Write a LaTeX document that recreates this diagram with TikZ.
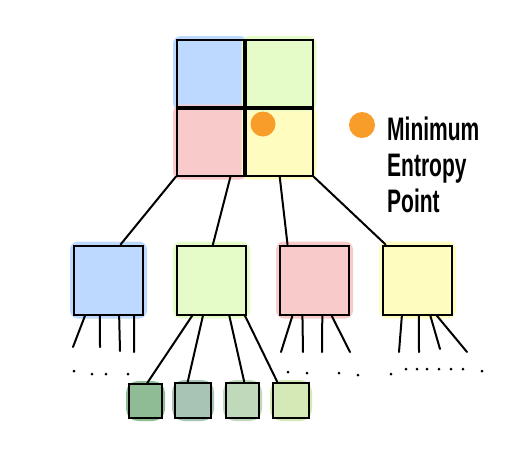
\documentclass[tikz,border=0pt]{standalone}
\usepackage{fontspec}
\newfontfamily\handfont{Liberation Sans}
\usetikzlibrary{calc,backgrounds}
\definecolor{paintblue}{HTML}{BED9FF}
\definecolor{paintgreen}{HTML}{E6FCC8}
\definecolor{paintred}{HTML}{F8CBCA}
\definecolor{paintyellow}{HTML}{FFFCC0}
\definecolor{paintorange}{HTML}{F89C2A}
\definecolor{leafa}{HTML}{8FBC95}
\definecolor{leafb}{HTML}{A7C4B5}
\definecolor{leafc}{HTML}{C0D9BB}
\definecolor{leafd}{HTML}{D4E9B6}

\begin{document}
\begin{tikzpicture}[x=1pt,y=-1pt,
    cell/.style={draw=black,line width=2pt,inner sep=0pt,minimum width=67pt,minimum height=67pt},
    kid/.style={draw=black,line width=2pt,inner sep=0pt,minimum size=69pt},
    leaf/.style={draw=black,line width=2pt,inner sep=0pt,minimum width=34pt,minimum height=34pt},
    link/.style={line width=2pt,line cap=round},
    speck/.style={fill=black,circle,inner sep=0pt,minimum size=3pt}]
    \useasboundingbox (0,0) rectangle (514,448);

    % top 2x2 grid
    \node[cell] (tl) at (210.5,73.5) {};
    \node[cell] (tr) at (279,73.5) {};
    \node[cell] (bl) at (210.5,142) {};
    \node[cell] (br) at (279,142) {};

    % second level
    \node[kid] (blue) at (108.5,280) {};
    \node[kid] (green) at (211.5,280) {};
    \node[kid] (red) at (314.5,280) {};
    \node[kid] (yellow) at (417.5,280) {};

    % small leaves below the green one
    \node[leaf,minimum width=33pt] (lfa) at (145.5,401) {};
    \node[leaf,minimum width=36pt,minimum height=35pt] (lfb) at (193,400.5) {};
    \node[leaf,minimum width=33pt,minimum height=35pt] (lfc) at (242.5,400.5) {};
    \node[leaf,minimum width=36pt,minimum height=35pt] (lfd) at (291,400.5) {};

    % painted fills, a bit larger than the boxes
    \begin{scope}[on background layer]
        \fill[white] (0,0) rectangle (514,448);
        \foreach \n/\c in {tl/paintblue,bl/paintred,br/paintyellow,tr/paintgreen,blue/paintblue,green/paintgreen,red/paintred,yellow/paintyellow}
            \fill[\c,rounded corners=8pt] ($(\n.north west)+(-3,-3)$) rectangle ($(\n.south east)+(3,3)$);
        \foreach \n/\c in {lfa/leafa,lfb/leafb,lfc/leafc,lfd/leafd}
            \fill[\c,rounded corners=12pt] ($(\n.north west)+(-2,-2)$) rectangle ($(\n.south east)+(2,2)$);
    \end{scope}

    % minimum entropy point and its key
    \node[circle,fill=paintorange,inner sep=0pt,minimum size=25pt] (minpt) at (263,124) {};
    \node[circle,fill=paintorange,inner sep=0pt,minimum size=26pt] (keypt) at (362,125) {};
    \node[anchor=base west,inner sep=0pt] (keytext) at (387,140)
        {\scalebox{1}[1.55]{\handfont\bfseries\fontsize{21}{23.5}\selectfont\begin{tabular}[t]{@{}l@{}}Minimum\\Entropy\\Point\end{tabular}}};

    % grid to second level
    \draw[link] (bl.south west) -- ($(blue.north west)!.67!(blue.north east)$);
    \draw[link] ($(bl.south west)!.79!(bl.south east)$) -- ($(green.north west)!.52!(green.north east)$);
    \draw[link] ($(br.south west)!.51!(br.south east)$) -- ($(red.north west)!.12!(red.north east)$);
    \draw[link] (br.south east) -- ($(yellow.north west)!.05!(yellow.north east)$);

    % green to small leaves
    \draw[link] ($(green.south west)!.23!(green.south east)$) -- ($(lfa.north west)!.55!(lfa.north east)$);
    \draw[link] ($(green.south west)!.38!(green.south east)$) -- ($(lfb.north west)!.36!(lfb.north east)$);
    \draw[link] ($(green.south west)!.75!(green.south east)$) -- ($(lfc.north west)!.55!(lfc.north east)$);
    \draw[link] ($(green.south west)!.97!(green.south east)$) -- ($(lfd.north west)!.14!(lfd.north east)$);

    % loose branches of the other boxes
    \foreach \n/\f/\ex/\ey [count=\i] in {blue/.17/73/347,blue/.38/100/347,blue/.65/120/351,blue/.86/134/352,
        red/.19/281/352,red/.33/303/352,red/.61/322/352,red/.74/350/352,
        yellow/.28/399/352,yellow/.52/419/352,yellow/.68/440/349,yellow/.77/467/352}{
        \coordinate (twig\i) at (\ex,\ey);
        \draw[link] ($(\n.south west)!\f!(\n.south east)$) -- (twig\i);
    }

    % dots for the rest
    \foreach \x/\y [count=\i] in {74/371,92/374,106/374,128/374,288/372,307/373,339/373,358/375,
        391/374,406/369,417/369,427/369,439/369,451/369,463/369,482/371}
        \node[speck] (dot\i) at (\x,\y) {};
\end{tikzpicture}
\end{document}
